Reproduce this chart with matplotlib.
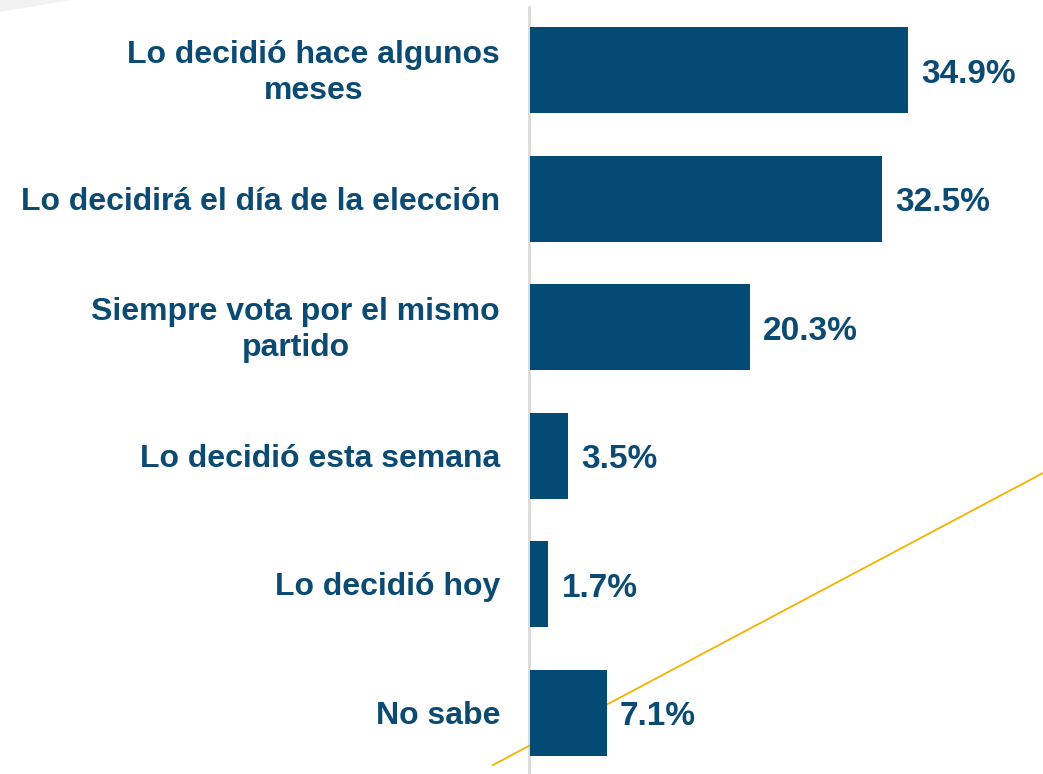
import matplotlib
matplotlib.use("Agg")
import matplotlib.pyplot as plt
from matplotlib.lines import Line2D
from matplotlib.patches import Polygon

categories = [
    "Lo decidió hace algunos\nmeses",
    "Lo decidirá el día de la elección",
    "Siempre vota por el mismo\npartido",
    "Lo decidió esta semana",
    "Lo decidió hoy",
    "No sabe",
]
values = [34.9, 32.5, 20.3, 3.5, 1.7, 7.1]
value_labels = ["34.9%", "32.5%", "20.3%", "3.5%", "1.7%", "7.1%"]

W, H = 1043, 774
fig = plt.figure(figsize=(W / 100, H / 100), dpi=100)
fig.patch.set_facecolor("white")

bar_color = "#034A75"
text_color = "#0B4A72"
font = ["Liberation Sans", "DejaVu Sans"]

ax = fig.add_axes([530 / W, -3 / H, (W - 530) / W, 771 / H])
ax.set_facecolor("none")
y = list(range(len(categories)))
ax.barh(y, values, height=0.67, color=bar_color, zorder=3)
ax.set_xlim(0, (W - 530) / 10.83)
ax.set_ylim(len(categories) - 0.5, -0.5)
for s in ["top", "right", "bottom", "left"]:
    ax.spines[s].set_visible(False)
ax.set_xticks([])
ax.set_yticks([])

for yi, (v, lab) in enumerate(zip(values, value_labels)):
    ax.annotate(lab, xy=(v, yi), xytext=(13, -4), textcoords="offset pixels",
                ha="left", va="center", fontsize=24, fontweight="bold",
                color=text_color, family=font)
for yi, cat in enumerate(categories):
    ax.annotate(cat, xy=(0, yi), xytext=(-30, -3), textcoords="offset pixels",
                ha="right", va="center", fontsize=23, fontweight="bold",
                color=text_color, family=font, linespacing=1.24,
                multialignment="center", annotation_clip=False)

# vertical axis line
fig.add_artist(Line2D([529 / W, 529 / W], [0, 1 - 7 / H], color="#D9D9D9", lw=2, zorder=-1))
# decorative diagonal line
fig.add_artist(Line2D([493 / W, 1.0], [1 - 765 / H, 1 - 473 / H], color="#F0B400", lw=1.3, zorder=-1))
# faint gray shape top-left
fig.add_artist(Polygon([[0, 1], [70 / W, 1], [0, 1 - 12 / H]], closed=True,
                       facecolor="#F2F2F2", edgecolor="none", zorder=-2))

fig.savefig("out.png", dpi=100)
